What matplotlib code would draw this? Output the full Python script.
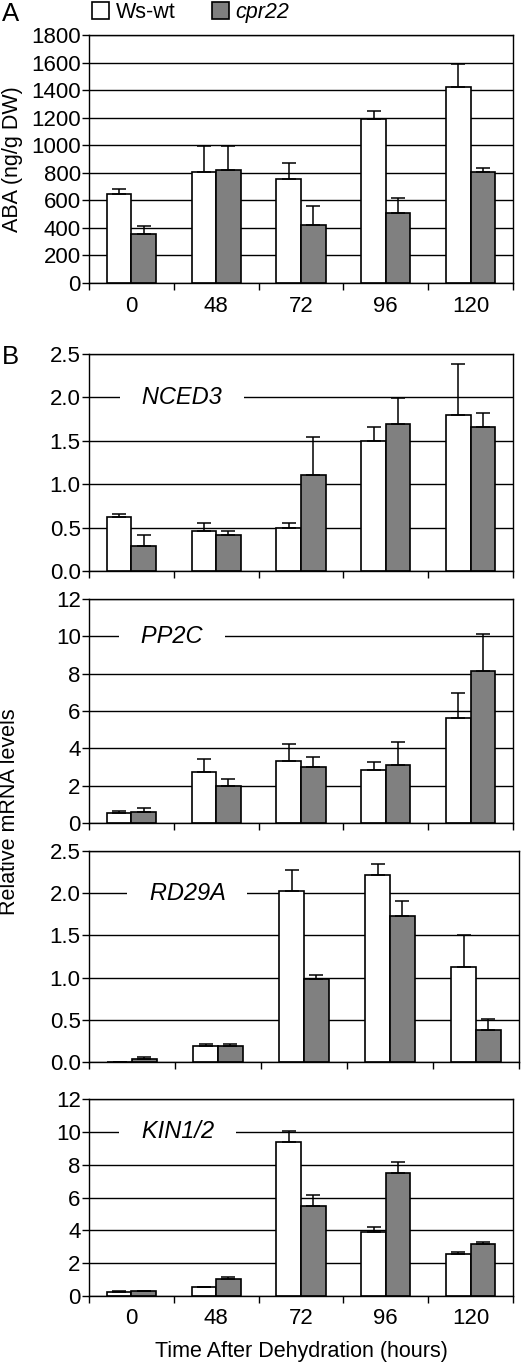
import numpy as np
import matplotlib
matplotlib.use('Agg')
import matplotlib.pyplot as plt
from matplotlib.patches import Patch

plt.rcParams['font.family'] = ['Liberation Sans', 'DejaVu Sans']

# categories (hours after dehydration)
hours = ['0', '48', '72', '96', '120']

# Panel A: ABA content (ng/g DW)
aba_wt = [644, 807, 758, 1189, 1424]
aba_wt_err = [35, 190, 112, 61, 165]
aba_cpr = [358, 819, 419, 509, 807]
aba_cpr_err = [56, 177, 138, 109, 26]

# Panel B: relative mRNA levels
nced3_wt = [0.62, 0.46, 0.49, 1.50, 1.80]
nced3_wt_err = [0.04, 0.09, 0.06, 0.16, 0.58]
nced3_cpr = [0.29, 0.42, 1.11, 1.69, 1.66]
nced3_cpr_err = [0.12, 0.04, 0.43, 0.30, 0.16]

pp2c_wt = [0.54, 2.74, 3.31, 2.86, 5.65]
pp2c_wt_err = [0.09, 0.68, 0.91, 0.43, 1.31]
pp2c_cpr = [0.61, 1.97, 2.99, 3.09, 8.14]
pp2c_cpr_err = [0.21, 0.39, 0.54, 1.27, 2.0]

rd29a_wt = [0.005, 0.19, 2.03, 2.22, 1.13]
rd29a_wt_err = [0.0, 0.02, 0.25, 0.13, 0.37]
rd29a_cpr = [0.03, 0.19, 0.98, 1.73, 0.38]
rd29a_cpr_err = [0.025, 0.02, 0.05, 0.18, 0.135]

kin_wt = [0.24, 0.57, 9.39, 3.89, 2.55]
kin_wt_err = [0.06, 0.0, 0.68, 0.30, 0.10]
kin_cpr = [0.30, 1.05, 5.49, 7.52, 3.16]
kin_cpr_err = [0.02, 0.10, 0.69, 0.65, 0.10]

W, H = 531, 1371
fig = plt.figure(figsize=(W / 100, H / 100), dpi=100)

def box(left, top, right, bottom):
    return [left / W, 1 - bottom / H, (right - left) / W, (bottom - top) / H]

gray = '#808080'
bw = 0.29

def panel(rect, wt, wt_err, cpr, cpr_err, ymax, ystep, fmt, gene=None, gene_x=0.5,
          gene_y=None, show_x=False):
    ax = fig.add_axes(rect)
    x = np.arange(len(hours))
    ekw = dict(ecolor='black', elinewidth=1.1, capsize=5, capthick=1.1)
    ax.bar(x - bw / 2, wt, bw, color='white', edgecolor='black', linewidth=1.2,
           yerr=[np.zeros(len(wt)), wt_err], error_kw=ekw, zorder=2)
    ax.bar(x + bw / 2, cpr, bw, color=gray, edgecolor='black', linewidth=1.2,
           yerr=[np.zeros(len(cpr)), cpr_err], error_kw=ekw, zorder=2)
    ax.set_xlim(-0.5, len(hours) - 0.5)
    ax.set_ylim(0, ymax)
    ticks = np.arange(0, ymax + ystep / 2, ystep)
    ax.set_yticks(ticks)
    ax.set_yticklabels([fmt.format(t) for t in ticks])
    ax.yaxis.grid(True, color='black', linewidth=1.0)
    ax.set_axisbelow(True)
    ax.set_xticks(np.arange(len(hours) + 1) - 0.5)
    ax.set_xticklabels([])
    ax.set_xticks(x, minor=True)
    if show_x:
        ax.set_xticklabels(hours, minor=True)
    ax.tick_params(axis='x', which='major', direction='out', length=5, width=1)
    ax.tick_params(axis='x', which='minor', length=0, pad=9, labelsize=16)
    ax.tick_params(axis='y', direction='out', length=5, width=1, pad=1, labelsize=16)
    for s in ax.spines.values():
        s.set_linewidth(1.0)
    if gene:
        ax.text(gene_x, gene_y, '   ' + gene + '   ', style='italic', fontsize=17,
                ha='center', va='center', zorder=1.5,
                bbox=dict(boxstyle='square,pad=0.1', fc='white', ec='none'))
    return ax

axA = panel(box(89, 35, 513, 283), aba_wt, aba_wt_err, aba_cpr, aba_cpr_err,
            1800, 200, '{:.0f}', show_x=True)
axA.set_ylabel('ABA (ng/g DW)', fontsize=15.5, labelpad=6)

panel(box(89, 354, 513, 571), nced3_wt, nced3_wt_err, nced3_cpr, nced3_cpr_err,
      2.5, 0.5, '{:.1f}', gene='NCED3', gene_x=0.594, gene_y=2.0)
panel(box(89, 599, 513, 823), pp2c_wt, pp2c_wt_err, pp2c_cpr, pp2c_cpr_err,
      12, 2, '{:.0f}', gene='PP2C', gene_x=0.476, gene_y=10)
panel(box(89, 851, 519, 1062), rd29a_wt, rd29a_wt_err, rd29a_cpr, rd29a_cpr_err,
      2.5, 0.5, '{:.1f}', gene='RD29A', gene_x=0.64, gene_y=2.0)
axK = panel(box(89, 1099, 513, 1296), kin_wt, kin_wt_err, kin_cpr, kin_cpr_err,
            12, 2, '{:.0f}', gene='KIN1/2', gene_x=0.547, gene_y=10, show_x=True)
axK.set_xlabel('Time After Dehydration (hours)', fontsize=15.5, labelpad=8)

fig.text(10 / W, 1 - 812 / H, 'Relative mRNA levels', rotation=90, fontsize=15.5,
         ha='center', va='center')
fig.text(2 / W, 1 - 14 / H, 'A', fontsize=18.5, ha='left', va='center')
fig.text(2 / W, 1 - 357 / H, 'B', fontsize=18.5, ha='left', va='center')

handles = [Patch(facecolor='white', edgecolor='black', linewidth=1.2),
           Patch(facecolor=gray, edgecolor='black', linewidth=1.2)]
leg = fig.legend(handles, ['Ws-wt', 'cpr22'], loc='upper left',
                 bbox_to_anchor=(92 / W, 1 - 2 / H), ncol=2, frameon=False,
                 fontsize=15.5, handlelength=0.8, handleheight=0.8,
                 handletextpad=0.3, columnspacing=1.7, borderpad=0, borderaxespad=0)
leg.get_texts()[1].set_style('italic')

fig.savefig('out.png', dpi=100)
